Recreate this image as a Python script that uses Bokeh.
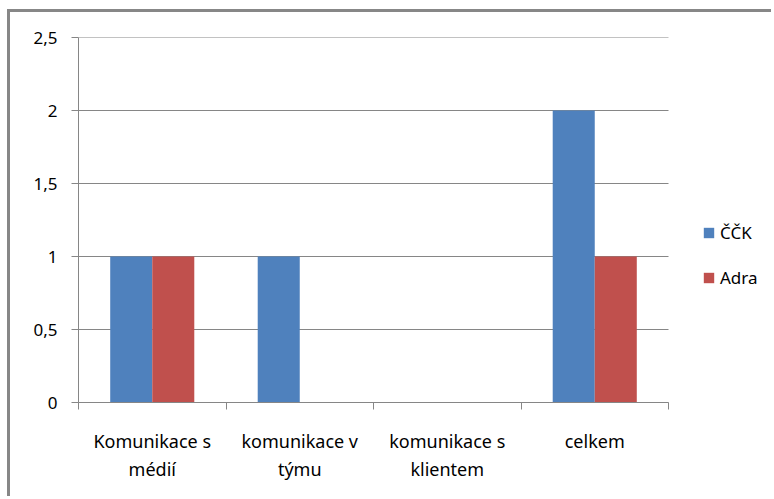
import numpy as np
from bokeh.plotting import figure
from bokeh.models import Range1d, FixedTicker, Legend, LegendItem
from bokeh.embed import file_html
from bokeh.resources import INLINE

categories = ["Komunikace s\nmédií", "komunikace v\ntýmu", "komunikace s\nklientem", "celkem"]
series_names = ["ČČK", "Adra"]
cck = [1, 1, 0, 2]
adra = [1, 0, 0, 1]
y_ticks = [0, 0.5, 1, 1.5, 2, 2.5]
y_tick_labels = ["0", "0,5", "1", "1,5", "2", "2,5"]
colors = ["#4F81BD", "#C0504D"]

FONT = "Noto Sans"
GRAY = "#868686"

n = len(categories)
unit_px = 147.5          # width of one category in pixels
legend_px = 106          # room for the legend right of the plot area
p = figure(width=764, height=487, output_backend="svg", toolbar_location=None,
           x_range=Range1d(0, n + legend_px / unit_px), y_range=Range1d(0, 2.5),
           min_border_left=68, min_border_top=25, min_border_right=0, min_border_bottom=97)
p.styles = {"border-left": "3px solid #878787", "border-top": "3px solid #878787",
            "margin-left": "7px", "margin-top": "9px"}
p.outline_line_color = None
p.background_fill_color = "white"
p.border_fill_color = "white"

# horizontal grid lines limited to the category area
p.ygrid.grid_line_color = None
p.xgrid.grid_line_color = None
p.segment(x0=[0] * len(y_ticks), x1=[n] * len(y_ticks), y0=y_ticks, y1=y_ticks,
          line_color=GRAY, line_width=1)

w = 0.285
idx = np.arange(n) + 0.5
r1 = p.vbar(x=idx - w / 2, top=cck, width=w, fill_color=colors[0], line_color=None)
r2 = p.vbar(x=idx + w / 2, top=adra, width=w, fill_color=colors[1], line_color=None)

# x axis
p.xaxis.bounds = (0, n)
p.xaxis.ticker = FixedTicker(ticks=list(idx), minor_ticks=list(range(n + 1)))
p.xaxis.major_label_overrides = {float(v): c for v, c in zip(idx, categories)}
p.xaxis.major_tick_line_color = None
p.xaxis.major_tick_out = 0
p.xaxis.major_tick_in = 0
p.xaxis.minor_tick_line_color = GRAY
p.xaxis.minor_tick_out = 7
p.xaxis.minor_tick_in = 0
p.xaxis.axis_line_color = GRAY
p.xaxis.major_label_standoff = 19
p.xaxis.major_label_text_font = FONT
p.xaxis.major_label_text_font_size = "18px"
p.xaxis.major_label_text_color = "black"

# y axis
p.yaxis.ticker = FixedTicker(ticks=y_ticks, minor_ticks=[])
p.yaxis.major_label_overrides = {float(v): l for v, l in zip(y_ticks, y_tick_labels)}
p.yaxis.major_tick_line_color = GRAY
p.yaxis.major_tick_out = 7
p.yaxis.major_tick_in = 0
p.yaxis.axis_line_color = GRAY
p.yaxis.major_label_standoff = 14
p.yaxis.major_label_text_font = FONT
p.yaxis.major_label_text_font_size = "17px"
p.yaxis.major_label_text_color = "black"

legend = Legend(items=[LegendItem(label=series_names[0], renderers=[r1]),
                       LegendItem(label=series_names[1], renderers=[r2])],
                location=(624, 113), orientation="vertical")
legend.border_line_color = None
legend.background_fill_alpha = 0
legend.padding = 0
legend.margin = 0
legend.spacing = 22
legend.glyph_width = 13
legend.glyph_height = 13
legend.label_height = 20
legend.label_standoff = 5
legend.label_text_font = FONT
legend.label_text_font_size = "17px"
legend.label_text_color = "black"
p.add_layout(legend, "center")

open("out.html", "w").write(file_html(p, INLINE))
